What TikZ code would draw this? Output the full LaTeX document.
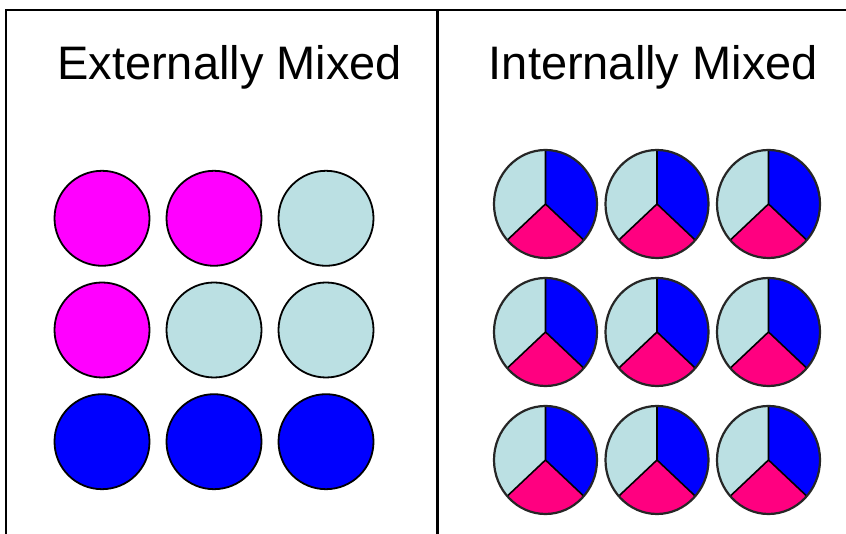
\documentclass[tikz,border=0pt]{standalone}
\usepackage{fontspec}
\setmainfont{Liberation Sans}
\definecolor{mag}{HTML}{FF00FF}
\definecolor{pale}{HTML}{BBE0E3}
\definecolor{pinkk}{HTML}{FF0080}
\definecolor{blu}{HTML}{0000FF}
\begin{document}
\begin{tikzpicture}[x=1pt,y=1pt,
  ball/.style={circle,draw=black,line width=1.8pt,minimum size=95pt,inner sep=0pt},
  title/.style={anchor=base west,inner sep=0pt,font=\fontsize{47}{56}\selectfont},
  frameline/.style={line width=2.2pt,black},
  pie/.pic={
    \fill[pale] (0,0) -- (90:51.5pt and 54pt) arc[start angle=90,end angle=222,x radius=51.5pt,y radius=54pt] -- cycle;
    \fill[blu] (0,0) -- (-42:51.5pt and 54pt) arc[start angle=-42,end angle=90,x radius=51.5pt,y radius=54pt] -- cycle;
    \fill[pinkk] (0,0) -- (222:51.5pt and 54pt) arc[start angle=222,end angle=318,x radius=51.5pt,y radius=54pt] -- cycle;
    \draw[line width=1.6pt] (0,0) -- (90:51.5pt and 54pt) (0,0) -- (222:51.5pt and 54pt) (0,0) -- (-42:51.5pt and 54pt);
    \draw[line width=2.2pt,black!85] (0,0) ellipse[x radius=51.5pt,y radius=54pt];
  }]
\useasboundingbox (0,0) rectangle (846,534);
\fill[white] (0,0) rectangle (846,534);
% frame
\coordinate (lb) at (6,0);
\coordinate (lt) at (6,524);
\coordinate (rt) at (846,524);
\coordinate (dt) at (437.5,524);
\coordinate (db) at (437.5,0);
\draw[frameline] (lb) -- (lt) -- (rt);
\draw[frameline] (dt) -- (db);
% titles
\node[title] (ext) at (57,454.7) {Externally Mixed};
\node[title] (int) at (488.6,454.7) {Internally Mixed};
% externally mixed circles
\node[ball,fill=mag] (e11) at (102,315.7) {};
\node[ball,fill=mag] (e12) at (214,315.7) {};
\node[ball,fill=pale] (e13) at (326,315.7) {};
\node[ball,fill=mag] (e21) at (102,204) {};
\node[ball,fill=pale] (e22) at (214,204) {};
\node[ball,fill=pale] (e23) at (326,204) {};
\node[ball,fill=blu] (e31) at (102,92.3) {};
\node[ball,fill=blu] (e32) at (214,92.3) {};
\node[ball,fill=blu] (e33) at (326,92.3) {};
% internally mixed pies
\foreach \py in {330,202,74}{
  \foreach \px in {545.5,657,768.5}{
    \pic at (\px,\py) {pie};
  }
}
\end{tikzpicture}
\end{document}
